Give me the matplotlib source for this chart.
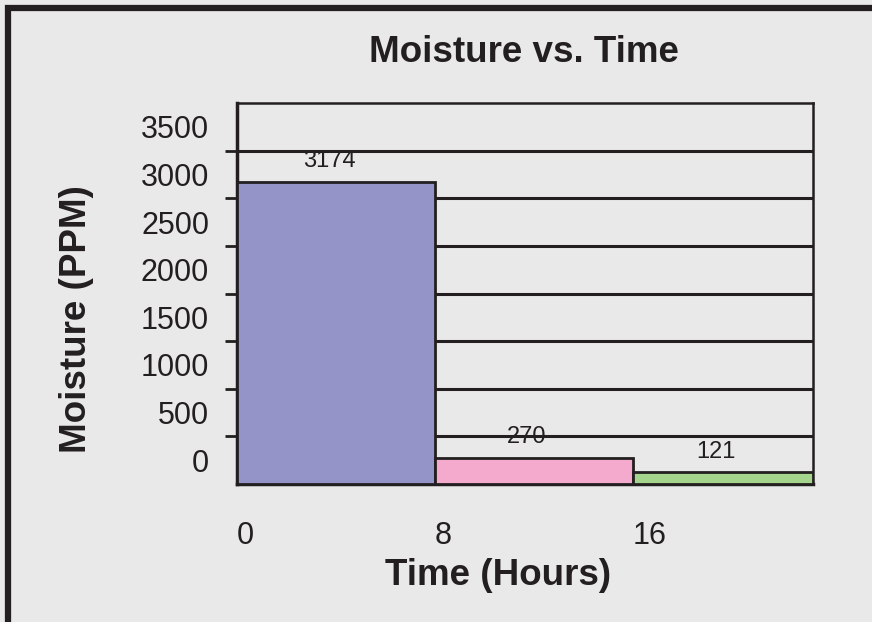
import numpy as np
import matplotlib.pyplot as plt
from matplotlib.patches import Rectangle

plt.rcParams['font.family'] = ['Liberation Sans', 'DejaVu Sans']

# data
time_edges = [0, 8, 16, 23.3]
moisture = [3174, 270, 121]
bar_colors = ['#9494c8', '#f4aacd', '#a5d48c']
x_ticks = [0, 8, 16]
y_labels = ['0', '500', '1000', '1500', '2000', '2500', '3000', '3500']
y_grid = [500, 1000, 1500, 2000, 2500, 3000, 3500]

ink = '#231f20'
bg = '#e9e9e9'

fig = plt.figure(figsize=(8.72, 6.22), dpi=100)
fig.patch.set_facecolor(bg)

##frame around the whole picture, cut off at right and bottom
fig.patches.append(Rectangle((8 / 872, -0.1), 1.2, 1 - 8 / 622 + 0.1,
                             transform=fig.transFigure, fill=False,
                             edgecolor=ink, linewidth=4.5))

ax = fig.add_axes([237 / 872, 1 - 484 / 622, (813 - 237) / 872, (484 - 103) / 622])
ax.set_facecolor('none')

widths = np.diff(time_edges)
ax.bar(time_edges[:-1], moisture, width=widths, align='edge',
       color=bar_colors, edgecolor=ink, linewidth=2, zorder=3)

for left, w, h in zip(time_edges[:-1], widths, moisture):
    ax.annotate(str(h), (left + w / 2, h), xytext=(-5, 15),
                textcoords='offset points', ha='center', va='center',
                fontsize=17, color=ink)

ax.set_xlim(time_edges[0], time_edges[-1])
ax.set_ylim(0, 4000)

# labels sit between the grid lines
ax.set_yticks([v + 250 for v in range(0, 4000, 500)])
ax.set_yticklabels(y_labels)
ax.set_yticks(y_grid, minor=True)
ax.tick_params(axis='y', which='major', length=0, pad=20, labelsize=22, labelcolor=ink)
ax.tick_params(axis='y', which='minor', length=8.6, width=2, color=ink, direction='out')
ax.yaxis.grid(True, which='minor', color=ink, linewidth=2.2, zorder=1)
ax.set_axisbelow(True)

ax.set_xticks(x_ticks)
ax.set_xticklabels([str(t) for t in x_ticks], ha='left')
ax.tick_params(axis='x', length=0, pad=27, labelsize=22, labelcolor=ink)

for side in ['left', 'bottom']:
    ax.spines[side].set_linewidth(2.5)
    ax.spines[side].set_color(ink)
for side in ['top', 'right']:
    ax.spines[side].set_linewidth(1.8)
    ax.spines[side].set_color(ink)

fig.text(524 / 872, 1 - 62 / 622, 'Moisture vs. Time', ha='center', va='baseline',
         fontsize=26.5, fontweight='bold', color=ink)
fig.text(498 / 872, 1 - 585 / 622, 'Time (Hours)', ha='center', va='baseline',
         fontsize=26.5, fontweight='bold', color=ink)
fig.text(76 / 872, 1 - 319 / 622, 'Moisture (PPM)', ha='center', va='center',
         rotation=90, fontsize=26.5, fontweight='bold', color=ink)

plt.savefig('out.png', dpi=100, facecolor=bg)
plt.close()
